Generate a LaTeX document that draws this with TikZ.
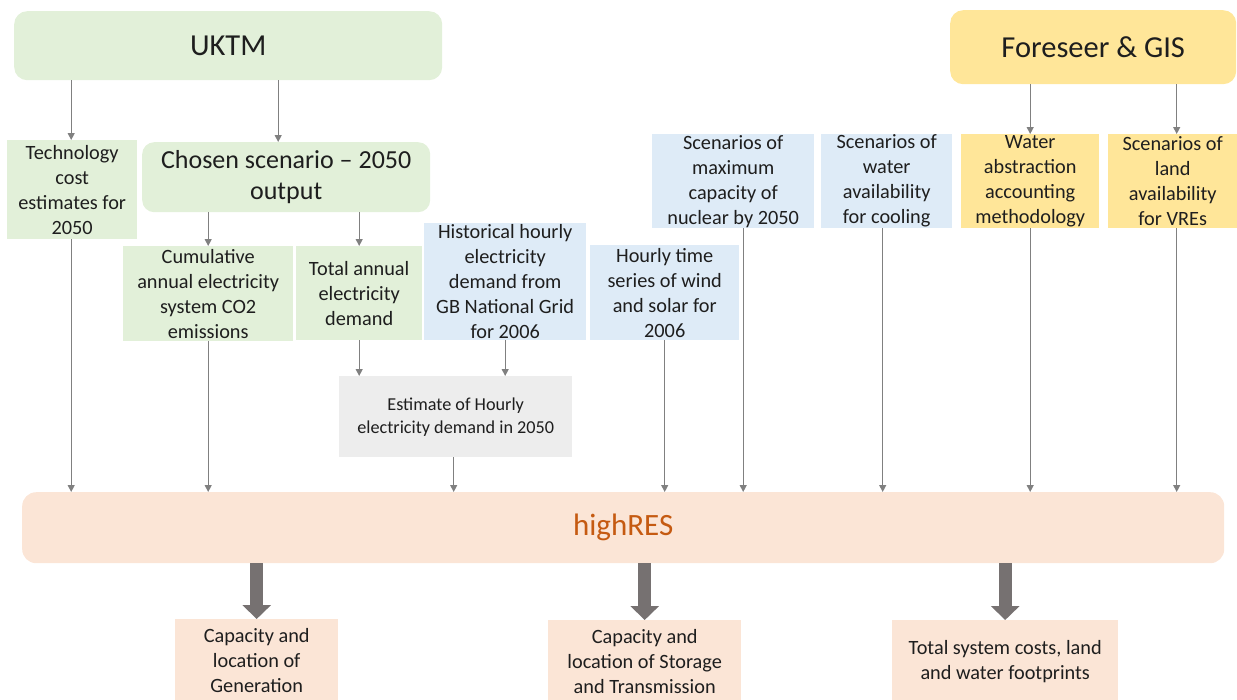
\documentclass[tikz,border=0pt]{standalone}
\usepackage{fontspec}
\setmainfont{Carlito}
\usetikzlibrary{arrows.meta,calc}
\definecolor{gfill}{HTML}{E2F0D9}
\definecolor{bfill}{HTML}{DEEBF7}
\definecolor{yfill}{HTML}{FFE699}
\definecolor{efill}{HTML}{EDEDED}
\definecolor{pfill}{HTML}{FBE5D6}
\definecolor{txt}{HTML}{1E1E1E}
\definecolor{hrtxt}{HTML}{C55A11}
\definecolor{thin}{HTML}{808080}
\definecolor{thickc}{HTML}{767171}
\begin{document}
\begin{tikzpicture}[x=1pt,y=-1pt,
  box/.style={draw=none, inner sep=0pt, align=center, text=txt, anchor=north west,
    font=\fontsize{20.3}{25}\selectfont},
  big/.style={box, rounded corners=13pt, font=\fontsize{30.5}{36}\selectfont},
  conn/.style={draw=thin, line width=1.2pt, -{Triangle[width=7pt,length=7pt]}},
  fat/.style={draw=thickc, line width=13pt, -{Triangle[width=28pt,length=14pt]}}
]
\useasboundingbox (0,0) rectangle (1237,699);

% top sources
\node[big, fill=gfill, minimum width=428pt, minimum height=69pt] (uktm) at (14,11) {UKTM};
\node[big, fill=yfill, minimum width=286pt, minimum height=74pt] (fgis) at (950,10) {Foreseer \& GIS};

% second row
\node[box, fill=gfill, minimum width=130pt, minimum height=99pt] (tech) at (7,140) {Technology\\cost\\estimates for\\2050};
\node[box, fill=gfill, rounded corners=12pt, minimum width=288pt, minimum height=70pt,
  font=\fontsize{26}{31}\selectfont] (chosen) at (142,142) {Chosen scenario -- 2050\\output};
\node[box, fill=gfill, minimum width=170pt, minimum height=95pt] (cum) at (123,246) {Cumulative\\annual electricity\\system CO2\\emissions};
\node[box, fill=gfill, minimum width=126pt, minimum height=94pt] (tot) at (296,246) {Total annual\\electricity\\demand};
\node[box, fill=bfill, minimum width=162pt, minimum height=117pt] (hist) at (424,223) {Historical hourly\\electricity\\demand from\\GB National Grid\\for 2006};
\node[box, fill=bfill, minimum width=149pt, minimum height=95pt] (wind) at (590,245) {Hourly time\\series of wind\\and solar for\\2006};
\node[box, fill=bfill, minimum width=162pt, minimum height=94pt] (nuc) at (652,134) {Scenarios of\\maximum\\capacity of\\nuclear by 2050};
\node[box, fill=bfill, minimum width=131pt, minimum height=94pt] (cool) at (821,134) {Scenarios of\\water\\availability\\for cooling};
\node[box, fill=yfill, minimum width=138pt, minimum height=94pt] (abs) at (961,134) {Water\\abstraction\\accounting\\methodology};
\node[box, fill=yfill, minimum width=129pt, minimum height=94pt] (land) at (1108,134) {Scenarios of\\land\\availability\\for VREs};

\node[box, fill=efill, minimum width=233pt, minimum height=81pt,
  font=\fontsize{18.2}{23}\selectfont] (est) at (339,376) {Estimate of Hourly\\electricity demand in 2050};

% highRES
\node[box, fill=pfill, rounded corners=14pt, minimum width=1202pt, minimum height=71pt,
  text=hrtxt, font=\fontsize{31}{36}\selectfont] (hr) at (22,492) {highRES};

% outputs
\node[box, fill=pfill, minimum width=163pt, minimum height=82pt] (gen) at (175,619) {Capacity and\\location of\\Generation};
\node[box, fill=pfill, minimum width=193pt, minimum height=82pt] (sto) at (548,620) {Capacity and\\location of Storage\\and Transmission};
\node[box, fill=pfill, minimum width=226pt, minimum height=82pt] (cost) at (892,620) {Total system costs, land\\and water footprints};

% helper coordinates
\coordinate (uc) at ([xshift=-8pt]chosen.north);
\coordinate (ut) at ([xshift=-1pt]tech.north);
\coordinate (nx) at ([xshift=10pt]nuc.south);
\coordinate (cx) at ([xshift=-4pt]cool.south);
\coordinate (lx) at ([xshift=4pt]land.south);
\coordinate (lt) at ([xshift=4pt]land.north);
\coordinate (ex) at ([xshift=-2pt]est.south);

% thin connectors
\draw[conn] (ut |- uktm.south) -- (ut);
\draw[conn] (uc |- uktm.south) -- (uc);
\draw[conn] (chosen.south -| cum.north) -- (cum.north);
\draw[conn] (chosen.south -| tot.north) -- (tot.north);
\draw[conn] (ut |- tech.south) -- (ut |- hr.north);
\draw[conn] (cum.south) -- (cum.south |- hr.north);
\draw[conn] (tot.south) -- (tot.south |- est.north);
\draw[conn] (hist.south) -- (hist.south |- est.north);
\draw[conn] (ex) -- (ex |- hr.north);
\draw[conn] (wind.south) -- (wind.south |- hr.north);
\draw[conn] (nx) -- (nx |- hr.north);
\draw[conn] (cx) -- (cx |- hr.north);
\draw[conn] (abs.north |- fgis.south) -- (abs.north);
\draw[conn] (lt |- fgis.south) -- (lt);
\draw[conn] (abs.south) -- (abs.south |- hr.north);
\draw[conn] (lx) -- (lx |- hr.north);

% thick outputs
\draw[fat] (gen.north |- hr.south) -- (gen.north);
\draw[fat] (sto.north |- hr.south) -- (sto.north);
\draw[fat] (cost.north |- hr.south) -- (cost.north);
\end{tikzpicture}
\end{document}
